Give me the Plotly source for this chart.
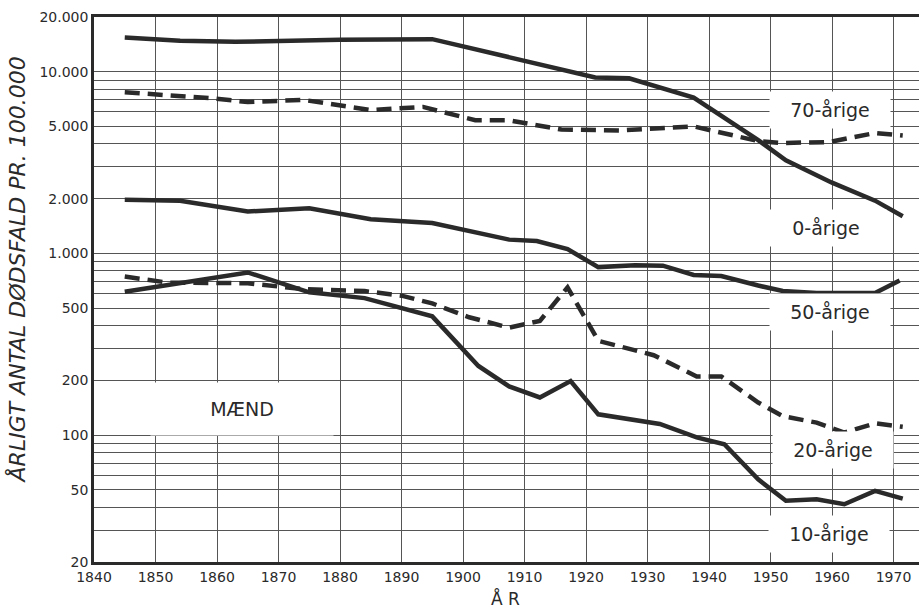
import math
import plotly.graph_objects as go

# ---- data ----
yr_0 = [1845, 1854, 1863, 1880, 1895, 1910, 1921.5, 1927, 1937.5, 1948, 1952.5, 1960, 1967, 1971.5]
v_0 = [15400, 14800, 14600, 15000, 15100, 11500, 9300, 9200, 7200, 4200, 3250, 2450, 1950, 1600]

yr_70 = [1845, 1859, 1865, 1874, 1885, 1893.5, 1902, 1907.5, 1916, 1925.5, 1937.5, 1948, 1952, 1959.5, 1967, 1971.5]
v_70 = [7700, 7150, 6800, 7000, 6150, 6400, 5400, 5400, 4800, 4750, 5000, 4150, 4050, 4100, 4600, 4450]

yr_50 = [1845, 1854, 1865, 1875, 1885, 1895, 1907.5, 1912, 1917, 1922, 1928, 1932.5, 1937.5, 1942, 1948, 1952, 1957.5, 1967, 1971]
v_50 = [1970, 1950, 1700, 1770, 1540, 1470, 1190, 1170, 1055, 840, 860, 855, 760, 750, 665, 620, 605, 605, 710]

yr_20 = [1845, 1852, 1865, 1874, 1884, 1890, 1895, 1901, 1907.5, 1912.5, 1917, 1922, 1931, 1938, 1942, 1948, 1952, 1957.5, 1962, 1967, 1971.5]
v_20 = [745, 690, 685, 635, 620, 585, 530, 445, 390, 425, 650, 330, 275, 210, 210, 151, 127, 117, 103, 116, 111]

yr_10 = [1845, 1865, 1875, 1884, 1895, 1902.5, 1907.5, 1912.5, 1917.5, 1922, 1932, 1938, 1942.5, 1948, 1952.5, 1957.5, 1962, 1967, 1971.5]
v_10 = [615, 785, 610, 567, 450, 240, 185, 161, 198, 130, 115, 97, 89, 57, 43.5, 44.3, 41.6, 49.3, 44.7]

x_ticks = list(range(1840, 1971, 10))
y_ticks = [20, 50, 100, 200, 500, 1000, 2000, 5000, 10000, 20000]
y_tick_text = ["20", "50", "100", "200", "500", "1.000", "2.000", "5.000", "10.000", "20.000"]
y_minor = [m * d for d in (10, 100, 1000, 10000) for m in range(1, 10)
           if 20 <= m * d <= 20000 and m * d not in y_ticks]

labels = [("70-årige", 1959.7, 6150), ("0-årige", 1959.0, 1377), ("50-årige", 1959.7, 475),
          ("20-årige", 1960.2, 82.5), ("10-årige", 1959.5, 28.4)]

INK = "#2a2a2a"
FONT = "DejaVu Sans"
DASH = "15px,8px"

fig = go.Figure()
series = [(yr_0, v_0, "solid"), (yr_70, v_70, DASH), (yr_50, v_50, "solid"),
          (yr_20, v_20, DASH), (yr_10, v_10, "solid")]
for xs, ys, dash in series:
    fig.add_trace(go.Scatter(x=xs, y=ys, mode="lines",
                             line=dict(color=INK, width=4.5, dash=dash),
                             showlegend=False, hoverinfo="skip"))

for txt, x, y in labels:
    fig.add_annotation(x=x, y=math.log10(y), xref="x", yref="y", text=txt, showarrow=False,
                       font=dict(family=FONT, size=19, color=INK),
                       bgcolor="white", width=118, height=34)

fig.add_annotation(x=1864.0, y=math.log10(139), xref="x", yref="y", text="MÆND", showarrow=False,
                   font=dict(family=FONT, size=19, color=INK),
                   bgcolor="white", width=180, height=50)

fig.add_annotation(x=-77 / 825, y=0.535, xref="paper", yref="paper",
                   xanchor="center", yanchor="middle",
                   text="<i>ÅRLIGT ANTAL DØDSFALD PR. 100.000</i>", textangle=-90,
                   showarrow=False, font=dict(family=FONT, size=22, color=INK))
fig.add_annotation(x=(505 - 94) / 825, y=-36 / 545, xref="paper", yref="paper",
                   xanchor="center", yanchor="middle", text="Å R", showarrow=False,
                   font=dict(family=FONT, size=17, color=INK))

fig.update_layout(
    width=919, height=612,
    margin=dict(l=94, r=0, t=17, b=50),
    paper_bgcolor="white", plot_bgcolor="white",
    xaxis=dict(range=[1840, 1840 + 825 / 6.15], tickvals=x_ticks, showgrid=True,
               gridcolor="#555", gridwidth=1, showline=True, linecolor=INK,
               linewidth=2.5, mirror=True, ticks="", zeroline=False,
               tickfont=dict(family=FONT, size=14, color=INK)),
    yaxis=dict(type="log", range=[1.30103, 4.30103], tickvals=y_ticks, ticktext=y_tick_text,
               showgrid=True, gridcolor="#555", gridwidth=1, showline=True, linecolor=INK,
               linewidth=2.5, ticks="", zeroline=False,
               minor=dict(tickmode="array", tickvals=y_minor, showgrid=True,
                          gridcolor="#555", gridwidth=1, ticks=""),
               tickfont=dict(family=FONT, size=14, color=INK)),
)

fig.write_html("out.html")
